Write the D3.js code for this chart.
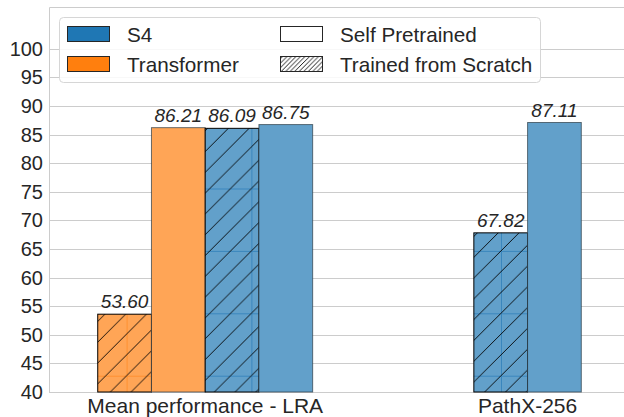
<!DOCTYPE html>
<html>
<head>
<meta charset="utf-8">
<script src="https://cdn.jsdelivr.net/npm/d3@7"></script>
<style>
  html, body { margin: 0; padding: 0; background: #fff; }
  svg { display: block; font-family: "Liberation Sans", Arial, sans-serif; }
</style>
</head>
<body>
<div id="chart"></div>
<script>
// Data
const groups = ["Mean performance - LRA", "PathX-256"];
const seriesNames = ["Transformer scratch", "Transformer pretrained", "S4 scratch", "S4 pretrained"];
const seriesModel = ["Transformer", "Transformer", "S4", "S4"];
const seriesHatched = [true, false, true, false];
const transformerScratch = [53.60, null];
const transformerPretrained = [86.21, null];
const s4Scratch = [86.09, 67.82];
const s4Pretrained = [86.75, 87.11];
const yTicks = [40, 45, 50, 55, 60, 65, 70, 75, 80, 85, 90, 95, 100];
const legendModels = ["S4", "Transformer"];
const legendStyles = ["Self Pretrained", "Trained from Scratch"];

const seriesValues = [transformerScratch, transformerPretrained, s4Scratch, s4Pretrained];

const width = 624;
const height = 417;
const marginTop = 7;
const marginBottom = 25;
const marginLeft = 49;
const plotRight = 624;

const baseColor = { S4: "#1f77b4", Transformer: "#ff7f0e" };
const barColor = { S4: "#62a0ca", Transformer: "#ffa556" };
const seamColor = { S4: "#3a86bd", Transformer: "#ff9030" };
const textColor = "#262626";
const gridColor = "#cccccc";
const barWidth = 1 / 6; // in group-index units

const x = d3.scaleLinear().domain([-0.4845, 1.2991]).range([marginLeft, plotRight]);
const y = d3.scaleLinear().domain([40, 107.3]).range([height - marginBottom, marginTop]);

const svg = d3.select("#chart")
  .append("svg")
  .attr("width", width)
  .attr("height", height)
  .attr("viewBox", [0, 0, width, height]);

// Hatch patterns (fixed to the page, like matplotlib's)
const defs = svg.append("defs");
const T = 62.4;
function addHatch(id, period, lines, seam) {
  const p = defs.append("pattern")
    .attr("id", id)
    .attr("patternUnits", "userSpaceOnUse")
    .attr("x", 501 - T * 8)
    .attr("y", 313.3 - T * 5)
    .attr("width", period)
    .attr("height", period);
  if (seam) {
    p.append("path")
      .attr("d", `M0,0.5H${period}M0.5,0V${period}`)
      .attr("stroke", seam)
      .attr("stroke-width", 1)
      .attr("fill", "none");
  }
  const step = period / lines;
  for (let c = -period; c <= 2 * period + 0.01; c += step) {
    p.append("path")
      .attr("d", `M${c},0L${c - period},${period}`)
      .attr("stroke", "#000")
      .attr("stroke-width", 0.9)
      .attr("fill", "none");
  }
}
addHatch("hatch-S4", T, 3, seamColor.S4);
addHatch("hatch-Transformer", T, 3, seamColor.Transformer);
addHatch("hatch-legend", 13.5, 3, null);

// Grid lines and spines
const gGrid = svg.append("g");
gGrid.selectAll("line")
  .data(yTicks)
  .join("line")
  .attr("x1", marginLeft)
  .attr("x2", plotRight)
  .attr("y1", (d) => Math.round(y(d)) + 0.5)
  .attr("y2", (d) => Math.round(y(d)) + 0.5)
  .attr("stroke", gridColor)
  .attr("stroke-width", 1);

gGrid.append("path")
  .attr("d", `M${plotRight},${marginTop + 0.5}H${marginLeft + 0.5}V${height - marginBottom + 0.5}H${plotRight}`)
  .attr("fill", "none")
  .attr("stroke", gridColor)
  .attr("stroke-width", 1);

// Y axis labels
svg.append("g")
  .selectAll("text")
  .data(yTicks)
  .join("text")
  .attr("x", marginLeft - 6)
  .attr("y", (d) => y(d))
  .attr("dy", "0.35em")
  .attr("text-anchor", "end")
  .attr("font-size", 20)
  .attr("fill", textColor)
  .text((d) => d);

// X axis labels
svg.append("g")
  .selectAll("text")
  .data(groups)
  .join("text")
  .attr("x", (d, i) => x(i))
  .attr("y", 413)
  .attr("text-anchor", "middle")
  .attr("font-size", 21)
  .attr("fill", textColor)
  .text((d) => d);

// Build bars: the bars present in a group are centred on the group
const bars = [];
groups.forEach((g, gi) => {
  const present = seriesValues
    .map((vals, si) => ({ si, value: vals[gi] }))
    .filter((d) => d.value != null);
  present.forEach((d, k) => {
    const offset = (k - (present.length - 1) / 2) * barWidth;
    bars.push({
      group: gi,
      center: gi + offset,
      value: d.value,
      model: seriesModel[d.si],
      hatched: seriesHatched[d.si]
    });
  });
});

const gBars = svg.append("g");
const bar = gBars.selectAll("g")
  .data(bars)
  .join("g");

const bx = (d) => x(d.center - barWidth / 2);
const bw = () => x(barWidth) - x(0);

bar.append("rect")
  .attr("x", bx)
  .attr("y", (d) => y(d.value))
  .attr("width", bw)
  .attr("height", (d) => y(40) - y(d.value))
  .attr("fill", (d) => barColor[d.model]);

bar.filter((d) => d.hatched)
  .append("rect")
  .attr("x", bx)
  .attr("y", (d) => y(d.value))
  .attr("width", bw)
  .attr("height", (d) => y(40) - y(d.value))
  .attr("fill", (d) => `url(#hatch-${d.model})`);

bar.append("rect")
  .attr("x", bx)
  .attr("y", (d) => y(d.value))
  .attr("width", bw)
  .attr("height", (d) => y(40) - y(d.value))
  .attr("fill", "none")
  .attr("stroke", (d) => (d.hatched ? "#000" : "#2b3a45"))
  .attr("stroke-opacity", (d) => (d.hatched ? 1 : 0.7))
  .attr("stroke-width", 1);

bar.append("text")
  .attr("x", (d) => x(d.center))
  .attr("y", (d) => y(d.value) - 6)
  .attr("text-anchor", "middle")
  .attr("font-size", 19)
  .attr("font-style", "italic")
  .attr("fill", textColor)
  .text((d) => d.value.toFixed(2));

// Legend
const gLegend = svg.append("g");
gLegend.append("rect")
  .attr("x", 59.5)
  .attr("y", 17.5)
  .attr("width", 481)
  .attr("height", 65)
  .attr("rx", 4)
  .attr("fill", "#fff")
  .attr("fill-opacity", 0.85)
  .attr("stroke", "#d6d6d6");

const legendItems = [
  { label: legendModels[0], fill: baseColor.S4, col: 0, row: 0 },
  { label: legendModels[1], fill: baseColor.Transformer, col: 0, row: 1 },
  { label: legendStyles[0], fill: "#fff", col: 1, row: 0 },
  { label: legendStyles[1], fill: "url(#hatch-legend)", col: 1, row: 1 }
];
const colX = [67, 280];
const rowY = [26, 56];

const item = gLegend.selectAll("g")
  .data(legendItems)
  .join("g")
  .attr("transform", (d) => `translate(${colX[d.col]},${rowY[d.row]})`);

item.append("rect")
  .attr("x", 0.5)
  .attr("y", 0.5)
  .attr("width", 42)
  .attr("height", 15)
  .attr("fill", (d) => d.fill)
  .attr("stroke", "#262626")
  .attr("stroke-width", 1);

item.append("text")
  .attr("x", 60)
  .attr("y", 15.5)
  .attr("font-size", 20.7)
  .attr("fill", textColor)
  .text((d) => d.label);
</script>
</body>
</html>
